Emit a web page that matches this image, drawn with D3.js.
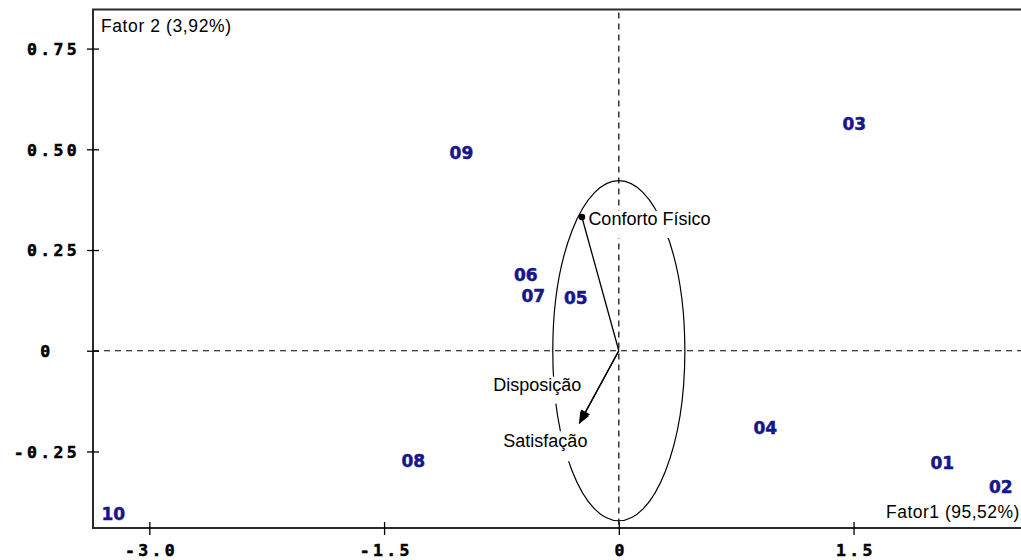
<!DOCTYPE html>
<html>
<head>
<meta charset="utf-8">
<script src="https://cdn.jsdelivr.net/npm/d3@7"></script>
<style>
  html, body { margin: 0; padding: 0; background: #fff; }
  svg { display: block; }
</style>
</head>
<body>
<svg id="chart" width="1021" height="560"></svg>
<script>
// ---------------- data ----------------
const pointLabels = ["01", "02", "03", "04", "05", "06", "07", "08", "09", "10"];
const pointX = [2.067, 2.441, 1.505, 0.936, -0.275, -0.594, -0.546, -1.313, -1.006, -3.230];
const pointY = [-0.278, -0.339, 0.563, -0.192, 0.132, 0.188, 0.136, -0.274, 0.490, -0.405];

const vectorNames = ["Conforto Físico", "Disposição", "Satisfação"];
const vectorX = [-0.236, -0.246, -0.252];
const vectorY = [0.332, -0.176, -0.180];
const circleRadius = 0.422;

const xTickValues = [-3.0, -1.5, 0, 1.5];
const xTickLabels = ["-3.0", "-1.5", "0", "1.5"];
const yTickValues = [0.75, 0.5, 0.25, 0, -0.25];
const yTickLabels = ["0.75", "0.50", "0.25", "0", "-0.25"];

const xAxisTitle = "Fator1 (95,52%)";
const yAxisTitle = "Fator 2 (3,92%)";

// ---------------- layout ----------------
const mLeft = 93, mRight = 1021, mTop = 9.5, mBottom = 528;
const svg = d3.select("#chart");

const x = d3.scaleLinear().domain([-3.36, 2.57]).range([mLeft, mRight]);
const y = d3.scaleLinear().domain([-0.44, 0.847]).range([mBottom, mTop]);

const navy = "#16168c";
const tickFont = "'DejaVu Sans Mono', monospace";
const textFont = "'Liberation Sans', Arial, sans-serif";

// dashed zero lines
svg.append("line")
  .attr("x1", mLeft).attr("x2", mRight)
  .attr("y1", y(0)).attr("y2", y(0))
  .attr("stroke", "#000").attr("stroke-width", 1.2)
  .attr("stroke-dasharray", "6,5");
svg.append("line")
  .attr("x1", x(0)).attr("x2", x(0))
  .attr("y1", mTop + 3).attr("y2", mBottom)
  .attr("stroke", "#000").attr("stroke-width", 1.2)
  .attr("stroke-dasharray", "6,5");

// correlation circle (ellipse in screen space)
svg.append("ellipse")
  .attr("cx", x(0)).attr("cy", y(0))
  .attr("rx", x(circleRadius) - x(0))
  .attr("ry", y(0) - y(circleRadius))
  .attr("fill", "none").attr("stroke", "#000").attr("stroke-width", 1.2);

// frame
svg.append("path")
  .attr("d", `M${mRight},${mTop} H${mLeft} V${mBottom} H${mRight}`)
  .attr("fill", "none").attr("stroke", "#2a2a2a").attr("stroke-width", 2);

// axes
const yAxis = d3.axisLeft(y)
  .tickValues(yTickValues)
  .tickFormat((d, i) => yTickLabels[i])
  .tickSize(6);
const gy = svg.append("g").attr("transform", `translate(${mLeft},0)`).call(yAxis);
gy.select(".domain").remove();
gy.selectAll(".tick line").attr("x1", -6).attr("x2", 6).attr("stroke", "#000").attr("stroke-width", 1.3);
// labels centred in a 5-character field: positive values shifted by half a cell
gy.selectAll(".tick text")
  .attr("x", (d) => 45 - mLeft + 1.8 + (d > 0 ? 6.6 : 0))
  .attr("dy", "0.36em")
  .attr("text-anchor", "middle")
  .attr("font-family", tickFont)
  .attr("font-weight", "bold")
  .attr("font-size", 16.5)
  .attr("letter-spacing", 3.3)
  .attr("stroke", "#000").attr("stroke-width", 0.5)
  .attr("fill", "#000");

const xAxis = d3.axisBottom(x)
  .tickValues(xTickValues)
  .tickFormat((d, i) => xTickLabels[i])
  .tickSize(6);
const gx = svg.append("g").attr("transform", `translate(0,${mBottom})`).call(xAxis);
gx.select(".domain").remove();
gx.selectAll(".tick line").attr("y1", -6).attr("y2", 7).attr("stroke", "#000").attr("stroke-width", 1.3);
gx.selectAll(".tick text")
  .attr("y", 22)
  .attr("dy", "0.36em")
  .attr("x", 1.7)
  .attr("text-anchor", "middle")
  .attr("font-family", tickFont)
  .attr("font-weight", "bold")
  .attr("font-size", 16.5)
  .attr("letter-spacing", 3.3)
  .attr("stroke", "#000").attr("stroke-width", 0.5)
  .attr("fill", "#000");

// axis titles
svg.append("text")
  .attr("x", mLeft + 8).attr("y", mTop + 22)
  .attr("font-family", textFont).attr("font-size", 17.5)
  .attr("letter-spacing", 0.6)
  .attr("fill", "#000")
  .text(yAxisTitle);
svg.append("text")
  .attr("x", 886).attr("y", y(0) + 167)
  .attr("font-family", textFont).attr("font-size", 17.5)
  .attr("letter-spacing", 0.5)
  .attr("fill", "#000")
  .text(xAxisTitle);

// vector label placement (offsets relative to vector tips)
const vLabelOpt = [
  { dx: 6.5, dy: 8, anchor: "start", box: [-1, -14, 1, 13] },
  { dx: 1, dy: -31, anchor: "end", box: [-1, -14, 1, 13] },
  { dx: -34, dy: 24, anchor: "middle", box: [-1, -16, 1, 14] }
];

const vecG = svg.append("g");
vectorNames.forEach((name, i) => {
  const tx = x(vectorX[i]), ty = y(vectorY[i]);
  const o = vLabelOpt[i];
  const t = vecG.append("text")
    .attr("x", tx + o.dx).attr("y", ty + o.dy)
    .attr("text-anchor", o.anchor)
    .attr("font-family", textFont).attr("font-size", 18)
    .attr("fill", "#000")
    .text(name);
  const bb = t.node().getBBox();
  vecG.insert("rect", "text")
    .attr("x", bb.x + o.box[0]).attr("y", ty + o.dy + o.box[1])
    .attr("width", bb.width + o.box[2] - o.box[0])
    .attr("height", o.box[3] - o.box[1])
    .attr("fill", "#fff");
});

// arrow markers
const defs = svg.append("defs");
defs.append("marker")
  .attr("id", "arrow").attr("viewBox", "0 0 12 10")
  .attr("refX", 11).attr("refY", 5)
  .attr("markerWidth", 13).attr("markerHeight", 10)
  .attr("markerUnits", "userSpaceOnUse")
  .attr("orient", "auto")
  .append("path").attr("d", "M0,0 L12,5 L0,10 Z").attr("fill", "#000");

vectorNames.forEach((name, i) => {
  const line = svg.append("line")
    .attr("x1", x(0)).attr("y1", y(0))
    .attr("x2", x(vectorX[i])).attr("y2", y(vectorY[i]))
    .attr("stroke", "#000").attr("stroke-width", 1.3);
  if (i === 0) {
    svg.append("circle")
      .attr("cx", x(vectorX[i])).attr("cy", y(vectorY[i]))
      .attr("r", 3.3).attr("fill", "#000");
  } else {
    line.attr("marker-end", "url(#arrow)");
  }
});

// individuals
svg.append("g").selectAll("text")
  .data(pointLabels)
  .join("text")
  .attr("x", (d, i) => x(pointX[i]))
  .attr("y", (d, i) => y(pointY[i]))
  .attr("dy", "0.36em")
  .attr("text-anchor", "middle")
  .attr("font-family", "'DejaVu Sans', sans-serif")
  .attr("font-weight", "bold")
  .attr("font-size", 17)
  .attr("stroke", navy).attr("stroke-width", 0.5)
  .attr("fill", navy)
  .text(d => d);
</script>
</body>
</html>
